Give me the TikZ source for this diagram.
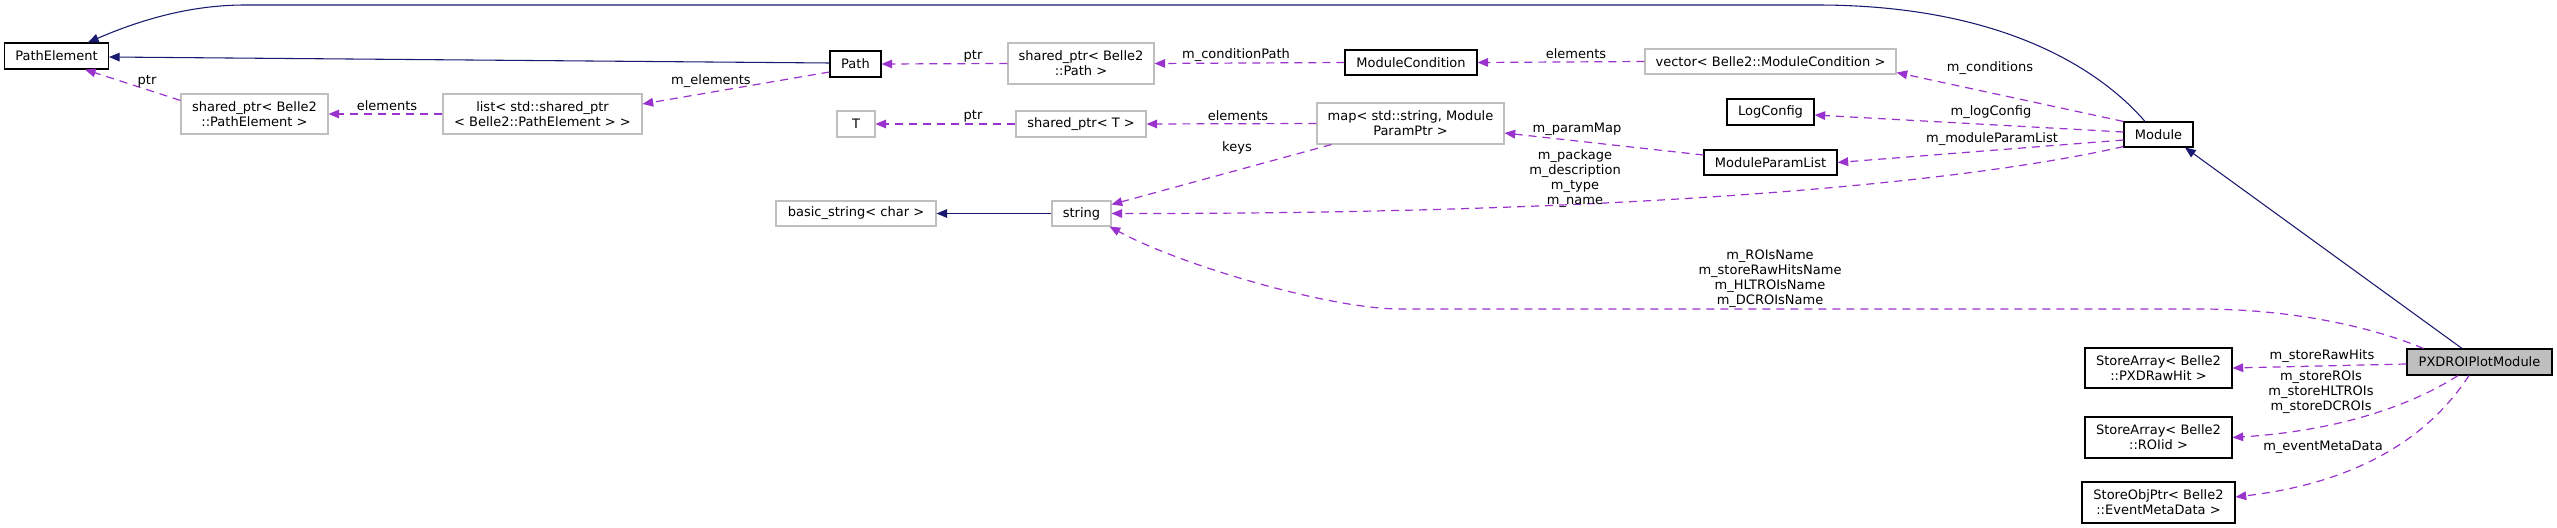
\documentclass[tikz,border=0pt]{standalone}
\usepackage{fontspec}
\setmainfont{DejaVu Sans}
\usetikzlibrary{arrows.meta,calc}
\definecolor{inh}{HTML}{191970}
\definecolor{use}{HTML}{9A32CD}
\definecolor{gry}{HTML}{BFBFBF}
\begin{document}
\begin{tikzpicture}[x=0.75pt,y=-0.75pt,
  font=\fontsize{9.75}{11.25}\selectfont,
  cls/.style={draw=black,fill=white,line width=0.8pt,inner sep=0pt,align=center},
  ext/.style={draw=gry,fill=white,line width=0.8pt,inner sep=0pt,align=center},
  sz/.style 2 args={minimum width=#1*0.75pt,minimum height=#2*0.75pt},
  inhe/.style={draw=inh,line width=0.8pt,-{Triangle[length=8pt,width=6.5pt]}},
  usee/.style={draw=use,line width=0.9pt,dash pattern=on 6pt off 4.5pt,-{Triangle[length=8pt,width=6.5pt]}},
  lbl/.style={inner sep=0pt,align=center}]
\path[use as bounding box,fill=white] (0,0) rectangle (2557,528);
% nodes
\node[cls,sz={104}{26}] (PE) at (56.5,56) {PathElement};
\node[ext,sz={147}{40}] (spPE) at (254.5,114) {shared\_ptr< Belle2\\::PathElement >};
\node[ext,sz={199}{40}] (list) at (542.5,114) {list< std::shared\_ptr\\< Belle2::PathElement > >};
\node[cls,sz={51}{26}] (Path) at (855.5,64) {Path};
\node[ext,sz={146}{41}] (spPath) at (1081,63.5) {shared\_ptr< Belle2\\::Path >};
\node[cls,sz={132}{25}] (MC) at (1411,62.5) {ModuleCondition};
\node[ext,sz={251}{25}] (vec) at (1770.5,61.5) {vector< Belle2::ModuleCondition >};
\node[ext,sz={38}{26}] (T) at (856,124) {T};
\node[ext,sz={130}{26}] (spT) at (1081,124) {shared\_ptr< T >};
\node[ext,sz={187}{41}] (map) at (1410.5,123.5) {map< std::string, Module\\ParamPtr >};
\node[cls,sz={87}{26}] (LC) at (1770.5,112) {LogConfig};
\node[cls,sz={133}{25}] (MPL) at (1770.5,162.5) {ModuleParamList};
\node[cls,sz={69}{25}] (Mod) at (2158.5,134.5) {Module};
\node[ext,sz={160}{25}] (bs) at (856,213.5) {basic\_string< char >};
\node[ext,sz={59}{25}] (str) at (1081.5,213.5) {string};
\node[cls,fill=gry,sz={145}{26}] (PXD) at (2479.5,362) {PXDROIPlotModule};
\node[cls,sz={147}{40}] (SAraw) at (2158.5,368) {StoreArray< Belle2\\::PXDRawHit >};
\node[cls,sz={147}{41}] (SAroi) at (2158.5,437.5) {StoreArray< Belle2\\::ROIid >};
\node[cls,sz={153}{41}] (SOP) at (2158.5,502.5) {StoreObjPtr< Belle2\\::EventMetaData >};
% inheritance
\coordinate (ta) at (1817,5);
\coordinate (tb) at (245,5);
\draw[inhe] ($(Mod.north)+(-13.5,0)$) .. controls (2105,75) and (2010,5) .. (ta) -- (tb) .. controls (190,5) and (140,20) .. ($(PE.north)+(31.5,0)$);
\draw[inhe] ($(Path.west)+(0,-1)$) -- ($(PE.east)+(0,1)$);
\draw[inhe] ($(PXD.north)+(-17.5,0)$) -- ($(Mod.south)+(26.5,0)$);
\draw[inhe] (str.west) -- (bs.east);
% usage
\draw[usee] ($(spPE.north west)+(0,7)$) -- ($(PE.south)+(28.5,0)$);
\draw[usee] (list.west) -- (spPE.east);
\draw[usee] ($(Path.west)+(0,8)$) -- ($(list.east)+(0,-10)$);
\draw[usee] (spPath.west) -- (Path.east);
\draw[usee] (MC.west) -- (spPath.east);
\draw[usee] (vec.west) -- (MC.east);
\draw[usee] (spT.west) -- (T.east);
\draw[usee] (map.west) -- (spT.east);
\draw[usee] ($(map.south west)+(15,0)$) -- ($(str.east)+(0,-9)$);
\draw[usee] ($(MPL.west)+(0,-7.5)$) -- ($(map.east)+(0,9.5)$);
\draw[usee] (Mod.north west) -- ($(vec.south east)+(0,-2)$);
\draw[usee] ($(Mod.west)+(0,-2.5)$) -- ($(LC.east)+(0,3)$);
\draw[usee] ($(Mod.west)+(0,5.5)$) -- (MPL.east);
\draw[usee] ($(Mod.south west)+(0,-1)$) .. controls (2000,175) and (1700,214) .. (str.east);
\coordinate (ra) at (2200,309);
\coordinate (rb) at (1400,309);
\draw[usee] ($(PXD.north west)+(17,0)$) .. controls (2380,330) and (2300,309) .. (ra) -- (rb) .. controls (1330,309) and (1180,265) .. ($(str.south east)+(-2,0)$);
\draw[usee] ($(PXD.west)+(0,2)$) -- (SAraw.east);
\draw[usee] ($(PXD.south)+(-21.5,0)$) .. controls (2420,400) and (2350,430) .. (SAroi.east);
\draw[usee] ($(PXD.south)+(-10.5,0)$) .. controls (2440,420) and (2380,480) .. ($(SOP.east)+(0,-5.5)$);
% labels
\node[lbl] (l1) at (147,81) {ptr};
\node[lbl] (l2) at (387,106) {elements};
\node[lbl] (l3) at (711,81) {m\_elements};
\node[lbl] (l4) at (973,56) {ptr};
\node[lbl] (l5) at (1236,55) {m\_conditionPath};
\node[lbl] (l6) at (1576,54) {elements};
\node[lbl] (l7) at (973,116) {ptr};
\node[lbl] (l8) at (1238,116) {elements};
\node[lbl] (l9) at (1237,148) {keys};
\node[lbl] (l10) at (1577,129) {m\_paramMap};
\node[lbl] (l11) at (1990,68) {m\_conditions};
\node[lbl] (l12) at (1991,112) {m\_logConfig};
\node[lbl] (l13) at (1992,139) {m\_moduleParamList};
\node[lbl] (l14) at (1575,179) {m\_package\\m\_description\\m\_type\\m\_name};
\node[lbl] (l15) at (1770,279) {m\_ROIsName\\m\_storeRawHitsName\\m\_HLTROIsName\\m\_DCROIsName};
\node[lbl] (l16) at (2322,356) {m\_storeRawHits};
\node[lbl] (l17) at (2321,392) {m\_storeROIs\\m\_storeHLTROIs\\m\_storeDCROIs};
\node[lbl] (l18) at (2323,447) {m\_eventMetaData};
\end{tikzpicture}
\end{document}
